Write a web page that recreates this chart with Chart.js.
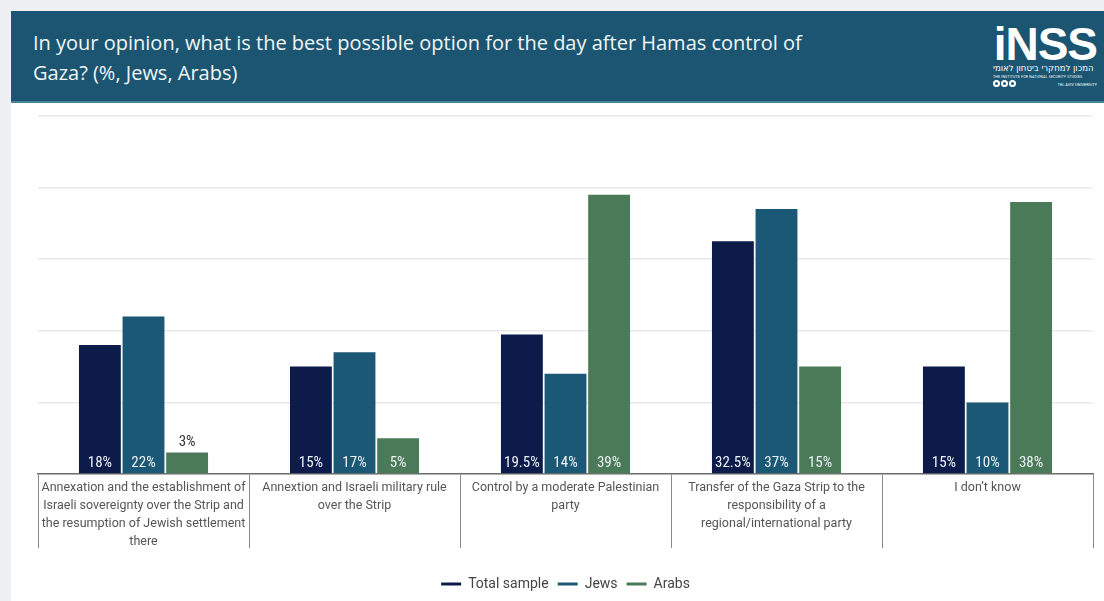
<!DOCTYPE html>
<html>
<head>
<meta charset="utf-8">
<script src="https://cdn.jsdelivr.net/npm/chart.js@4.4.1/dist/chart.umd.min.js"></script>
<style>
  html, body { margin: 0; padding: 0; }
  body { width: 1104px; height: 601px; background: #eef0f4; position: relative; overflow: hidden; font-family: Roboto, "Open Sans", sans-serif; }
  .header { position: absolute; left: 11px; top: 11px; width: 1093px; height: 90px; background: #1b5571; border-bottom: 2px solid #4f8199; }
  .title { position: absolute; left: 22px; top: 17px; width: 815px; color: #f1f5f7; font-family: "Open Sans", sans-serif; font-size: 20px; line-height: 30px; }
  .logo { position: absolute; right: 7px; top: 14px; width: 104px; color: #fff; text-align: right; }
  .logo .big { font-family: "Liberation Sans", Arial, sans-serif; font-weight: bold; font-size: 46px; line-height: 38px; letter-spacing: -1px; }
  .logo .heb { font-family: "DejaVu Sans", "Liberation Sans", sans-serif; font-size: 8.5px; line-height: 11px; direction: rtl; text-align: left; }
  .logo .en { font-size: 3.5px; line-height: 6px; text-align: left; letter-spacing: 0.2px; }
  .logo .row { display: flex; justify-content: space-between; align-items: center; font-size: 4px; line-height: 5px; }
  .logo .dots span { display: inline-block; width: 7px; height: 7px; border: 2px solid #fff; border-radius: 50%; box-sizing: border-box; margin-right: 1px; }
  .panel { position: absolute; left: 11px; top: 103px; width: 1093px; height: 498px; background: #fff; }
</style>
</head>
<body>
<div class="header">
  <div class="title">In your opinion, what is the best possible option for the day after Hamas control of Gaza? (%, Jews, Arabs)</div>
  <div class="logo">
    <div class="big">iNSS</div>
    <div class="heb">המכון למחקרי ביטחון לאומי</div>
    <div class="en">THE INSTITUTE FOR NATIONAL SECURITY STUDIES</div>
    <div class="row"><span class="dots"><span></span><span></span><span></span></span><span>TEL AVIV UNIVERSITY</span></div>
  </div>
</div>
<div class="panel"><canvas id="chart" width="1093" height="498"></canvas></div>
<script>
// categories (wrapped as in the source chart)
var categories = [
  ['Annexation and the establishment of', 'Israeli sovereignty over the Strip and', 'the resumption of Jewish settlement', 'there'],
  ['Annextion and Israeli military rule', 'over the Strip'],
  ['Control by a moderate Palestinian', 'party'],
  ['Transfer of the Gaza Strip to the', 'responsibility of a', 'regional/international party'],
  ['I don\u2019t know']
];
var seriesNames = ['Total sample', 'Jews', 'Arabs'];
var totalSample = [18, 15, 19.5, 32.5, 15];
var jews = [22, 17, 14, 37, 10];
var arabs = [3, 5, 39, 15, 38];
var yMax = 50;
var yStep = 10;

var colors = ['#0d1b4b', '#1b5875', '#4a7a58'];
var labelFont = '"Liberation Sans Narrow", "Roboto Condensed", Roboto, sans-serif';

// value labels: white inside the foot of the bar, dark above the bar when it is too short
var barLabels = {
  id: 'barLabels',
  afterDatasetsDraw: function (chart) {
    var ctx = chart.ctx;
    ctx.save();
    ctx.font = '15px ' + labelFont;
    ctx.textAlign = 'center';
    ctx.textBaseline = 'middle';
    chart.data.datasets.forEach(function (ds, i) {
      chart.getDatasetMeta(i).data.forEach(function (bar, j) {
        var v = ds.data[j];
        var txt = v + '%';
        if (bar.base - bar.y < 26) {
          ctx.fillStyle = '#333';
          ctx.fillText(txt, bar.x, bar.y - 10);
        } else {
          ctx.fillStyle = '#eef2f6';
          ctx.fillText(txt, bar.x, bar.base - 10);
        }
      });
    });
    ctx.restore();
  }
};

var datasets = [totalSample, jews, arabs].map(function (vals, i) {
  return {
    label: seriesNames[i],
    data: vals,
    backgroundColor: colors[i],
    borderWidth: 0,
    categoryPercentage: 0.62,
    barPercentage: 0.96
  };
});

new Chart(document.getElementById('chart'), {
  type: 'bar',
  data: { labels: categories, datasets: datasets },
  plugins: [barLabels],
  options: {
    responsive: false,
    animation: false,
    layout: { padding: { left: 27, right: 11, top: 13, bottom: 0 } },
    scales: {
      x: {
        offset: true,
        grid: {
          offset: true,
          drawOnChartArea: false,
          drawTicks: true,
          tickLength: 74,
          color: '#8a8a8a',
          lineWidth: 1
        },
        border: { display: true, color: '#6f6f6f', width: 1.5 },
        ticks: {
          padding: -69,
          maxRotation: 0,
          minRotation: 0,
          autoSkip: false,
          color: '#555',
          font: { family: 'Roboto, "Open Sans", sans-serif', size: 12.5, lineHeight: 1.44 }
        },
        afterFit: function (scale) { scale.height = 94; }
      },
      y: {
        min: 0,
        max: yMax,
        ticks: { display: false, stepSize: yStep },
        grid: { color: '#e9e9e9', lineWidth: 1.5, drawTicks: false },
        border: { display: false }
      }
    },
    plugins: {
      legend: {
        position: 'bottom',
        labels: {
          boxWidth: 20,
          boxHeight: 3,
          padding: 9,
          color: '#444',
          font: { family: 'Roboto, "Open Sans", sans-serif', size: 14 }
        }
      },
      tooltip: { enabled: false }
    }
  }
});
</script>
</body>
</html>
